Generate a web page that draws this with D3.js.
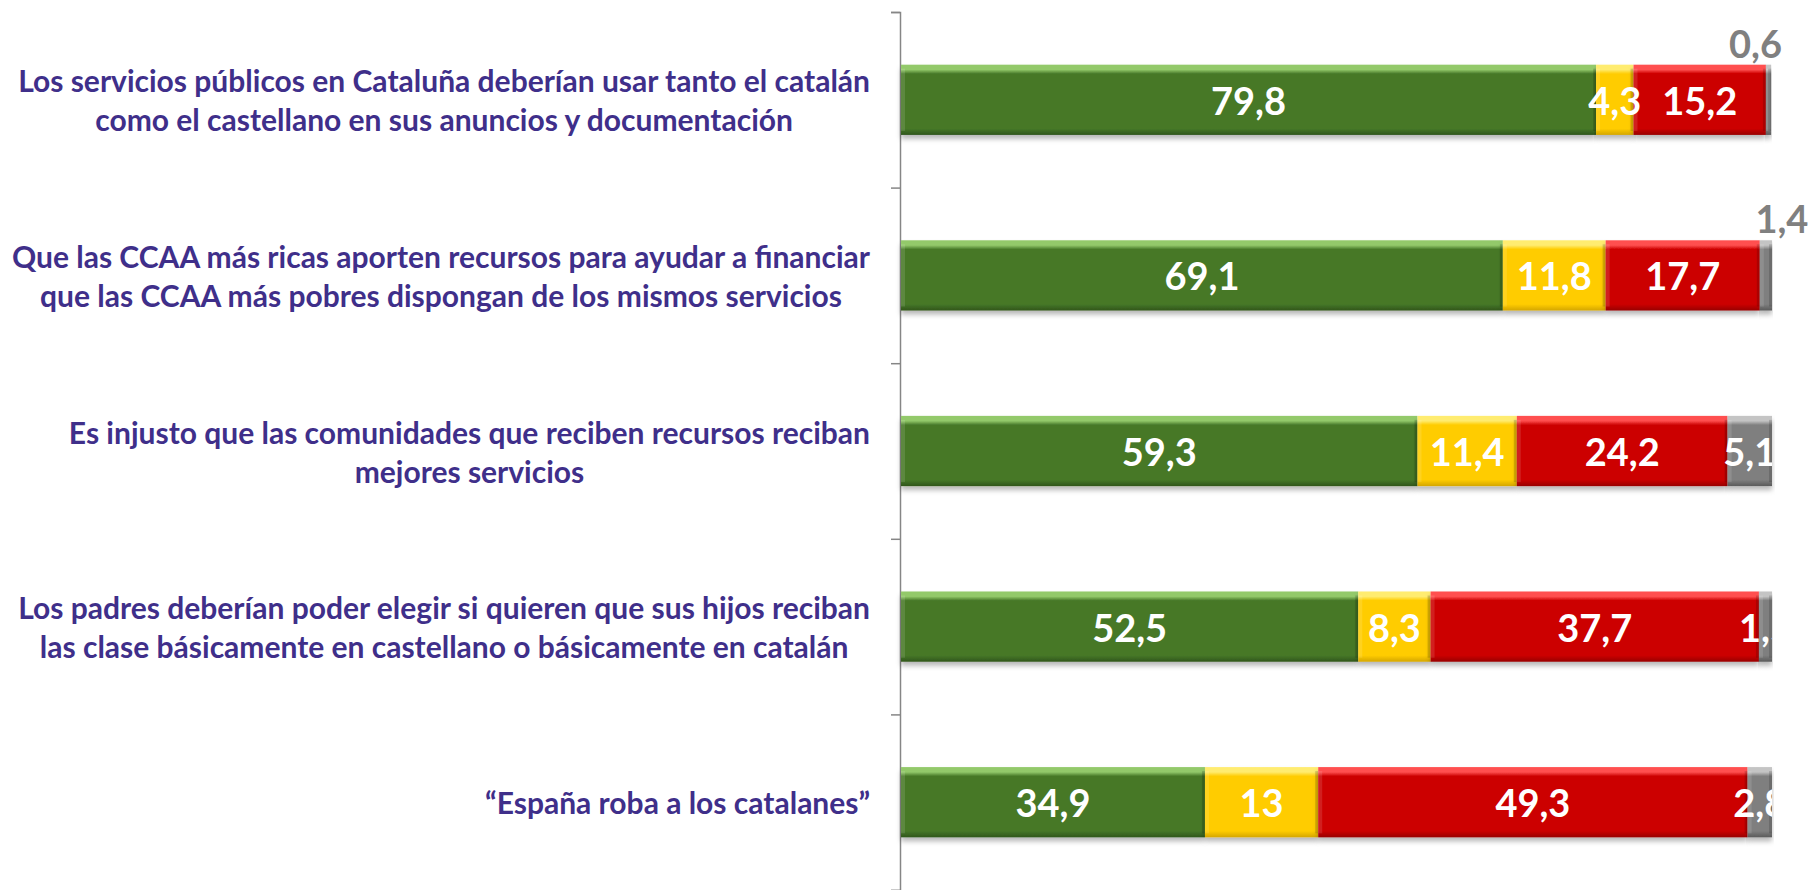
<!DOCTYPE html>
<html>
<head>
<meta charset="utf-8">
<script src="https://cdn.jsdelivr.net/npm/d3@7"></script>
<style>
  body { margin: 0; background: #fff; }
  svg { display: block; }
</style>
</head>
<body>
<div class="canvas"></div>
<script>
// categories (each label already split in lines, as in the original)
const categories = [
  ['Los servicios públicos en Cataluña deberían usar tanto el catalán', 'como el castellano en sus anuncios y documentación'],
  ['Que las CCAA más ricas aporten recursos para ayudar a financiar', 'que las CCAA más pobres dispongan de los mismos servicios'],
  ['Es injusto que las comunidades que reciben recursos reciban', 'mejores servicios'],
  ['Los padres deberían poder elegir si quieren que sus hijos reciban', 'las clase básicamente en castellano o básicamente en catalán'],
  ['“España roba a los catalanes”']
]

// series values, one per category
const deAcuerdo = [79.8, 69.1, 59.3, 52.5, 34.9]
const niAcuerdoNiDesacuerdo = [4.3, 11.8, 11.4, 8.3, 13]
const enDesacuerdo = [15.2, 17.7, 24.2, 37.7, 49.3]
const nsNc = [0.6, 1.4, 5.1, 1.5, 2.8]

const seriesNames = ['deAcuerdo', 'neutral', 'desacuerdo', 'nsnc']
const seriesValues = [deAcuerdo, niAcuerdoNiDesacuerdo, enDesacuerdo, nsNc]

const width = 1809, height = 890
const plotLeft = 900, plotRight = 1772
const plotTop = 12, plotBottom = 890

const colors = {
  deAcuerdo: { base: '#467828', light: '#93c96a', dark: '#30561b' },
  neutral: { base: '#ffcc00', light: '#ffec70', dark: '#d4a600' },
  desacuerdo: { base: '#cc0000', light: '#ff5050', dark: '#980000' },
  nsnc: { base: '#7f7f7f', light: '#c4c4c4', dark: '#5a5a5a' }
}

const svg = d3.select('.canvas').append('svg')
    .attr('width', width)
    .attr('height', height)

const defs = svg.append('defs')

// bevel-like gradient for every colour
seriesNames.forEach(name => {
  const c = colors[name]
  const g = defs.append('linearGradient')
      .attr('id', 'grad-' + name)
      .attr('x1', 0).attr('y1', 0).attr('x2', 0).attr('y2', 1)
  g.append('stop').attr('offset', '0%').attr('stop-color', c.light)
  g.append('stop').attr('offset', '7%').attr('stop-color', c.light)
  g.append('stop').attr('offset', '13%').attr('stop-color', c.base)
  g.append('stop').attr('offset', '91%').attr('stop-color', c.base)
  g.append('stop').attr('offset', '100%').attr('stop-color', c.dark)
})

const shadow = defs.append('filter').attr('id', 'shadow')
    .attr('x', '-5%').attr('y', '-10%').attr('width', '110%').attr('height', '140%')
shadow.append('feDropShadow')
    .attr('dx', 0).attr('dy', 4).attr('stdDeviation', 2.5)
    .attr('flood-color', '#000').attr('flood-opacity', 0.28)

defs.append('clipPath').attr('id', 'plotclip')
  .append('rect')
    .attr('x', plotLeft).attr('y', 0)
    .attr('width', plotRight - plotLeft).attr('height', height)

// scales
const y = d3.scaleBand()
    .domain(d3.range(categories.length))
    .range([plotTop, plotBottom])
    .paddingInner(0.6)
    .paddingOuter(0.3)

const x = d3.scaleLinear()
    .domain([0, 100])
    .range([plotLeft + 1, plotRight])

// stacked data
const rows = categories.map((c, i) => {
  const r = {}
  seriesNames.forEach((s, k) => r[s] = seriesValues[k][i])
  return r
})
const stacked = d3.stack().keys(seriesNames)(rows)

// axis: ticks sit on the category boundaries
const yEdges = d3.scaleLinear().domain([0, categories.length]).range([plotTop, plotBottom])
const axis = svg.append('g')
    .attr('transform', `translate(${plotLeft},0)`)
    .call(d3.axisLeft(yEdges).tickValues(d3.range(categories.length + 1)).tickSize(9).tickFormat(''))
axis.selectAll('path, line').attr('stroke', '#868686').attr('stroke-width', 1.5)

// bars
const layers = svg.append('g').selectAll('g')
  .data(stacked)
  .join('g')
    .attr('fill', d => `url(#grad-${d.key})`)

layers.selectAll('rect')
  .data(d => d)
  .join('rect')
    .attr('x', d => x(d[0]))
    .attr('y', (d, i) => y(i))
    .attr('width', d => x(d[1]) - x(d[0]))
    .attr('height', y.bandwidth())
    .attr('filter', 'url(#shadow)')

// soft side bevels
layers.selectAll('rect.lbevel')
  .data(d => d)
  .join('rect')
    .attr('class', 'lbevel')
    .attr('x', d => x(d[0]))
    .attr('y', (d, i) => y(i) + 4)
    .attr('width', d => Math.min(4, x(d[1]) - x(d[0])))
    .attr('height', y.bandwidth() - 8)
    .attr('fill', '#fff').attr('opacity', 0.12)
layers.selectAll('rect.rbevel')
  .data(d => d)
  .join('rect')
    .attr('class', 'rbevel')
    .attr('x', d => Math.max(x(d[0]), x(d[1]) - 3))
    .attr('y', (d, i) => y(i) + 4)
    .attr('width', d => Math.min(3, x(d[1]) - x(d[0])))
    .attr('height', y.bandwidth() - 8)
    .attr('fill', '#000').attr('opacity', 0.15)

// value labels
const fmt = v => String(v).replace('.', ',')
const inside = svg.append('g').attr('clip-path', 'url(#plotclip)')
const outsideShift = { 0: -13, 1: 16 }

stacked.forEach(layer => {
  layer.forEach((d, i) => {
    const v = d[1] - d[0]
    const cx = (x(d[0]) + x(d[1])) / 2
    const cy = y(i) + y.bandwidth() / 2
    const small = layer.key === 'nsnc' && v < 1.45 && i < 2
    if (small) {
      svg.append('text')
          .attr('x', cx + outsideShift[i])
          .attr('y', y(i) - 22)
          .attr('text-anchor', 'middle')
          .attr('dominant-baseline', 'central')
          .attr('fill', '#808080')
          .style('font-family', 'Lato')
          .style('font-weight', 700)
          .style('font-size', '38px')
          .text(fmt(+v.toFixed(1)))
    } else {
      inside.append('text')
          .attr('x', cx)
          .attr('y', cy)
          .attr('text-anchor', 'middle')
          .attr('dominant-baseline', 'central')
          .attr('fill', '#fff')
          .style('font-family', 'Lato')
          .style('font-weight', 700)
          .style('font-size', '38px')
          .text(fmt(+v.toFixed(1)))
    }
  })
})

// category labels: block right aligned against the axis, lines centred
const labelRight = 870
const lineH = 39
categories.forEach((lines, i) => {
  const g = svg.append('g')
  const texts = lines.map((line, k) => g.append('text')
      .attr('y', y(i) + y.bandwidth() / 2 + (k - (lines.length - 1) / 2) * lineH)
      .attr('text-anchor', 'middle')
      .attr('dominant-baseline', 'central')
      .attr('fill', '#3f2f8a')
      .style('font-family', 'Lato')
      .style('font-weight', 700)
      .style('font-size', '30px')
      .text(line))
  const maxW = d3.max(texts, t => t.node().getComputedTextLength())
  texts.forEach(t => t.attr('x', labelRight - maxW / 2))
})
</script>
</body>
</html>
